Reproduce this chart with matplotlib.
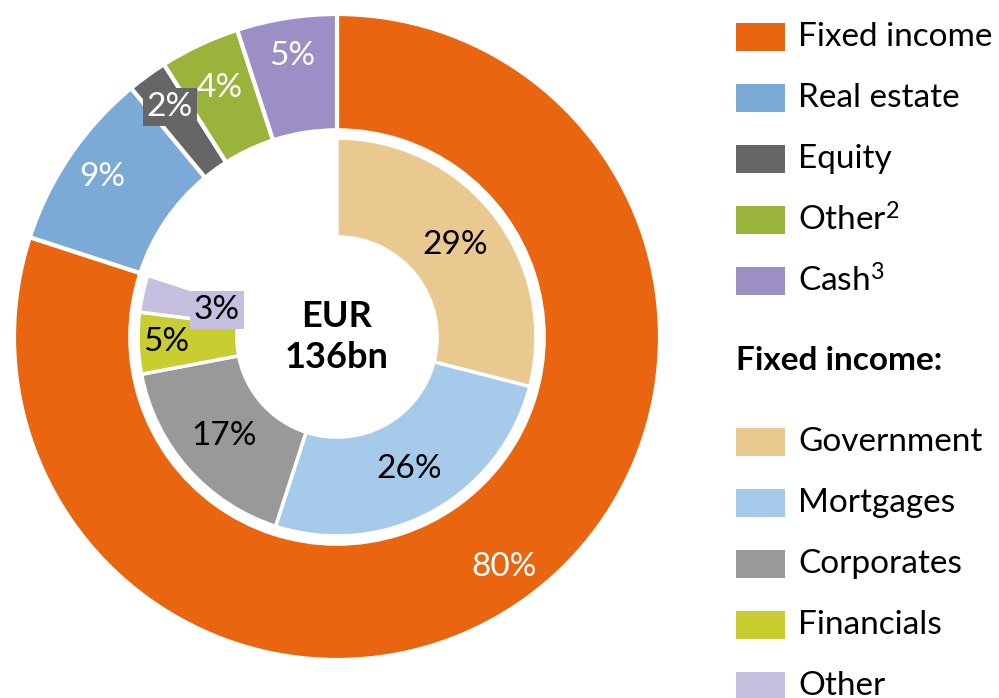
import matplotlib.pyplot as plt
import numpy as np

plt.rcParams['font.family'] = ['Lato', 'DejaVu Sans']
plt.rcParams['mathtext.fontset'] = 'custom'
plt.rcParams['mathtext.rm'] = 'Lato'
plt.rcParams['mathtext.default'] = 'regular'

# outer ring: asset classes (% of total)
asset_labels = ['Fixed income', 'Real estate', 'Equity', 'Other$^2$', 'Cash$^3$']
asset_values = [80, 9, 2, 4, 5]
asset_colors = ['#E9650F', '#7BAAD6', '#666666', '#99B33B', '#9B8FC5']

# inner ring: fixed income split (% of total)
fi_labels = ['Government', 'Mortgages', 'Corporates', 'Financials', 'Other']
fi_values = [29, 26, 17, 5, 3]
fi_colors = ['#E9C98F', '#A6CBEA', '#999999', '#C9CD2F', '#C5BEDF']

total_text = 'EUR\n136bn'

FS = 24

fig = plt.figure(figsize=(9.99, 6.98), dpi=100)
ax = fig.add_axes([14 / 999, 38 / 698, 646 / 999, 646 / 698])

R_OUT, W_OUT = 1.0, 0.36
R_IN, W_IN = 0.616, 0.306

ax.pie(asset_values, radius=R_OUT, colors=asset_colors, startangle=90,
       counterclock=False, wedgeprops=dict(width=W_OUT, edgecolor='white', linewidth=3))
ax.pie([v / 100 for v in fi_values], radius=R_IN, colors=fi_colors, startangle=90,
       counterclock=False, normalize=False,
       wedgeprops=dict(width=W_IN, edgecolor='white', linewidth=2.5))


def put_labels(values, r, colors_txt, boxes, rscale):
    start = 90.0
    for i, v in enumerate(values):
        mid = np.deg2rad(start - v * 3.6 / 2)
        start -= v * 3.6
        rr = r * rscale[i]
        kw = {}
        if boxes[i]:
            kw['bbox'] = dict(facecolor=boxes[i], edgecolor='none', pad=3)
        ax.text(rr * np.cos(mid), rr * np.sin(mid), f'{v}%', ha='center', va='center',
                fontsize=FS, color=colors_txt[i], **kw)


put_labels(asset_values, 0.88, ['white'] * 5, [None, None, '#666666', None, None],
           [1, 1, 1, 0.97, 1])
put_labels(fi_values, 0.465, ['black'] * 5, [None, None, None, None, '#C5BEDF'],
           [1, 1, 1, 1.14, 0.82])

ax.text(0, 0, total_text, ha='center', va='center', fontsize=26, fontweight='bold',
        linespacing=1.3)
ax.set_xlim(-1, 1)
ax.set_ylim(-1, 1)
ax.set_aspect('equal')
ax.axis('off')

# legend drawn by hand
def legend_row(y_px, color, label):
    fig.patches.append(plt.Rectangle((736 / 999, 1 - (y_px + 14) / 698), 49 / 999, 28 / 698,
                                     transform=fig.transFigure, facecolor=color,
                                     edgecolor='none'))
    fig.text(798 / 999, 1 - y_px / 698, label, ha='left', va='center', fontsize=FS)


for i, (lab, col) in enumerate(zip(asset_labels, asset_colors)):
    legend_row(37 + 61 * i, col, lab)
fig.text(736 / 999, 1 - 360 / 698, 'Fixed income:', ha='left', va='center', fontsize=FS,
         fontweight='bold')
for i, (lab, col) in enumerate(zip(fi_labels, fi_colors)):
    legend_row(442 + 61 * i, col, lab)

fig.savefig('out.png', dpi=100)
